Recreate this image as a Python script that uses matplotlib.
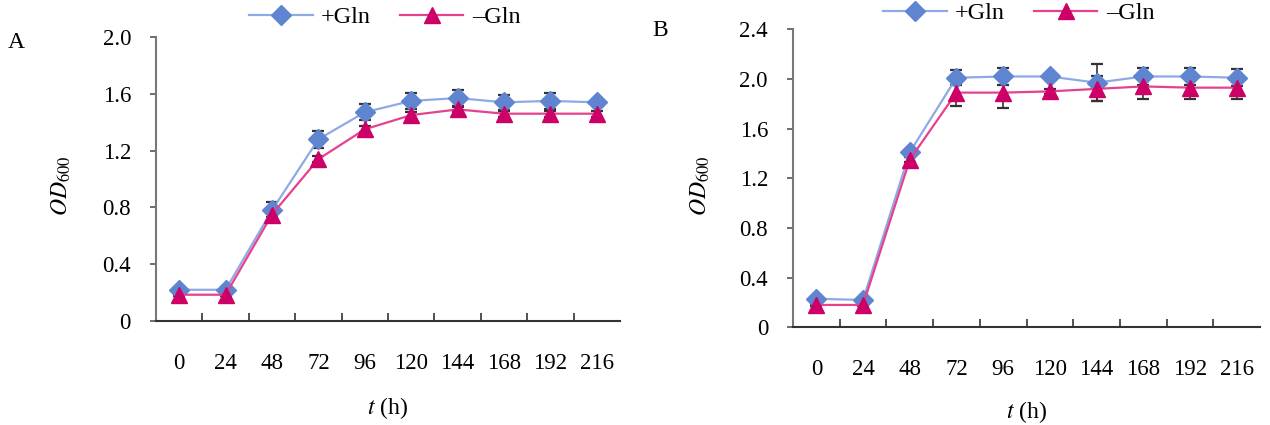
import matplotlib
matplotlib.use("Agg")
import matplotlib.pyplot as plt
import numpy as np

plt.rcParams['font.family'] = ['Liberation Serif', 'DejaVu Serif']
plt.rcParams['mathtext.fontset'] = 'stix'

hours = ['0', '24', '48', '72', '96', '120', '144', '168', '192', '216']

# Panel A
a_plus = [0.22, 0.22, 0.78, 1.28, 1.47, 1.55, 1.57, 1.54, 1.55, 1.54]
a_plus_err = [0.01, 0.01, 0.06, 0.06, 0.055, 0.055, 0.055, 0.055, 0.055, 0.01]
a_minus = [0.185, 0.185, 0.75, 1.14, 1.35, 1.45, 1.49, 1.46, 1.46, 1.46]
a_minus_err = [0.01, 0.01, 0.02, 0.02, 0.02, 0.02, 0.02, 0.02, 0.02, 0.02]

# Panel B
b_plus = [0.23, 0.22, 1.41, 2.01, 2.02, 2.02, 1.97, 2.02, 2.02, 2.01]
b_plus_err = [0.01, 0.01, 0.02, 0.06, 0.07, 0.02, 0.15, 0.07, 0.07, 0.07]
b_minus = [0.18, 0.18, 1.35, 1.89, 1.89, 1.90, 1.92, 1.94, 1.93, 1.93]
b_minus_err = [0.01, 0.01, 0.02, 0.11, 0.12, 0.02, 0.10, 0.10, 0.09, 0.09]

series_labels = ['+Gln', '\u2013Gln']
a_yticks = [0, 0.4, 0.8, 1.2, 1.6, 2.0]
a_yticklabels = ['0', '0.4', '0.8', '1.2', '1.6', '2.0']
b_yticks = [0, 0.4, 0.8, 1.2, 1.6, 2.0, 2.4]
b_yticklabels = ['0', '0.4', '0.8', '1.2', '1.6', '2.0', '2.4']

PLUS_LINE = '#8eaae6'
PLUS_MARK = '#5f85d0'
MINUS_LINE = '#e6418f'
MINUS_MARK = '#cc0066'
FS = 16.5

fig = plt.figure(figsize=(12.7, 4.25), dpi=100)
axA = fig.add_axes([156/1270, 1-321/425, 464/1270, 284/425])
axB = fig.add_axes([793/1270, 1-327.3/425, 467/1270, 298/425])


def draw(ax, plus, plus_err, minus, minus_err, yticks, yticklabels, ymax,
         leg_xy, xlab_y):
    x = np.arange(len(hours))
    ax.errorbar(x, plus, yerr=plus_err, fmt='none', ecolor='#333333',
                elinewidth=1.2, capsize=4.5, capthick=1.6, zorder=2)
    ax.errorbar(x, minus, yerr=minus_err, fmt='none', ecolor='#333333',
                elinewidth=1.2, capsize=4.5, capthick=1.6, zorder=2)
    l1, = ax.plot(x, plus, color=PLUS_LINE, lw=1.6, marker='D', ms=10,
                  mfc=PLUS_MARK, mec=PLUS_MARK, zorder=3, label=series_labels[0])
    l2, = ax.plot(x, minus, color=MINUS_LINE, lw=1.6, marker='^', ms=12,
                  mfc=MINUS_MARK, mec=MINUS_MARK, zorder=4, label=series_labels[1])
    ax.set_xlim(-0.5, len(hours) - 0.5)
    ax.set_ylim(0, ymax)
    ax.set_xticks(x)
    ax.set_xticklabels(hours, fontsize=FS)
    ax.tick_params(axis='x', which='major', length=0, pad=23)
    ax.set_xticks(np.arange(0.5, len(hours) - 1, 1.0), minor=True)
    ax.tick_params(axis='x', which='minor', direction='in', length=6,
                   width=1.2, color='#333333')
    ax.set_yticks(yticks)
    ax.set_yticklabels(yticklabels, fontsize=FS)
    ax.tick_params(axis='y', direction='out', length=4, width=1.2,
                   color='#555555', pad=14)
    for s in ['top', 'right']:
        ax.spines[s].set_visible(False)
    ax.spines['left'].set_color('#777777')
    ax.spines['left'].set_linewidth(1.5)
    ax.spines['bottom'].set_color('#333333')
    ax.spines['bottom'].set_linewidth(1.5)
    bb = ax.get_position()
    fig.text(bb.x0 + bb.width / 2, 1 - xlab_y / 425, r'$\mathit{t}$ (h)',
             ha='center', va='center', fontsize=FS + 0.5)
    fig.legend(handles=[l1, l2], loc='center', bbox_to_anchor=leg_xy,
               bbox_transform=fig.transFigure, ncol=2, frameon=False,
               fontsize=17.5, handlelength=2.6, handletextpad=0.35,
               columnspacing=1.2, borderpad=0, borderaxespad=0)


draw(axA, a_plus, a_plus_err, a_minus, a_minus_err, a_yticks, a_yticklabels,
     2.0, (385/1270, 1-17/425), 408)
draw(axB, b_plus, b_plus_err, b_minus, b_minus_err, b_yticks, b_yticklabels,
     2.4, (1019/1270, 1-13/425), 412)

fig.text(61/1270, 1-186/425, r'$\mathit{OD}_{\mathrm{600}}$', rotation=90,
         ha='center', va='center', fontsize=17)
fig.text(700/1270, 1-186/425, r'$\mathit{OD}_{\mathrm{600}}$', rotation=90,
         ha='center', va='center', fontsize=17)
fig.text(8/1270, 1-42/425, 'A', ha='left', va='center', fontsize=17)
fig.text(652/1270, 1-31/425, 'B', ha='left', va='center', fontsize=17)

fig.savefig('out.png', dpi=100)
